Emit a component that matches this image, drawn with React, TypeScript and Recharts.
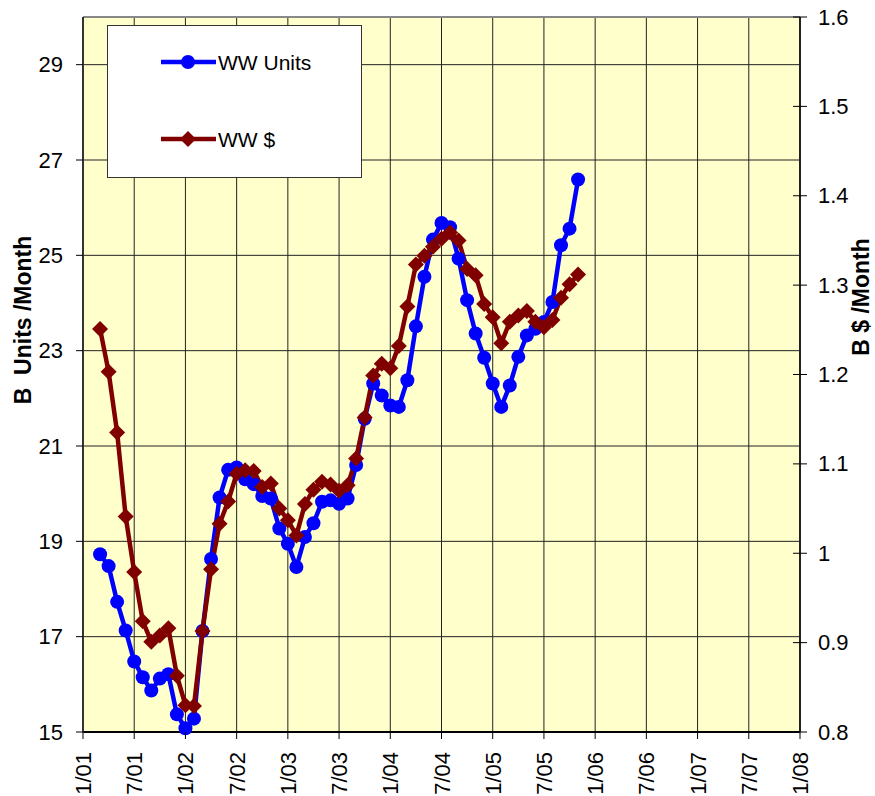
import React from 'react';
import { ComposedChart, Line, XAxis, YAxis, CartesianGrid, ReferenceLine } from 'recharts';

const FONT = '"Liberation Sans", Arial, Helvetica, sans-serif';

const DATES = [
  '2001-03', '2001-04', '2001-05', '2001-06', '2001-07', '2001-08', '2001-09', '2001-10', '2001-11', '2001-12',
  '2002-01', '2002-02', '2002-03', '2002-04', '2002-05', '2002-06', '2002-07', '2002-08', '2002-09', '2002-10', '2002-11', '2002-12',
  '2003-01', '2003-02', '2003-03', '2003-04', '2003-05', '2003-06', '2003-07', '2003-08', '2003-09', '2003-10', '2003-11', '2003-12',
  '2004-01', '2004-02', '2004-03', '2004-04', '2004-05', '2004-06', '2004-07', '2004-08', '2004-09', '2004-10', '2004-11', '2004-12',
  '2005-01', '2005-02', '2005-03', '2005-04', '2005-05', '2005-06', '2005-07', '2005-08', '2005-09', '2005-10', '2005-11',
];

const WW_UNITS = [
  18.73, 18.48, 17.73, 17.13, 16.48, 16.15, 15.87, 16.12, 16.21, 15.37,
  15.08, 15.28, 17.12, 18.63, 19.92, 20.5, 20.55, 20.3, 20.2, 19.95, 19.9, 19.27,
  18.95, 18.46, 19.09, 19.38, 19.83, 19.86, 19.79, 19.9, 20.6, 21.57, 22.31, 22.06,
  21.85, 21.82, 22.38, 23.51, 24.55, 25.33, 25.68, 25.59, 24.93, 24.06, 23.36, 22.85,
  22.31, 21.82, 22.27, 22.87, 23.32, 23.46, 23.6, 24.02, 25.21, 25.56, 26.59,
];

const WW_DOLLARS = [
  1.251, 1.203, 1.135, 1.041, 0.979, 0.924, 0.901, 0.908, 0.916, 0.863,
  0.83, 0.829, 0.913, 0.982, 1.033, 1.058, 1.089, 1.093, 1.092, 1.074, 1.078, 1.05,
  1.037, 1.02, 1.055, 1.071, 1.08, 1.077, 1.07, 1.076, 1.106, 1.152, 1.199, 1.212,
  1.207, 1.232, 1.276, 1.323, 1.333, 1.343, 1.352, 1.359, 1.35, 1.318, 1.311, 1.279,
  1.264, 1.235, 1.259, 1.266, 1.271, 1.259, 1.253, 1.261, 1.286, 1.301, 1.312,
];

const X_TICK_LABELS = ['1/01', '7/01', '1/02', '7/02', '1/03', '7/03', '1/04', '7/04', '1/05', '7/05', '1/06', '7/06', '1/07', '7/07', '1/08'];
const LEFT_TICKS = [15, 17, 19, 21, 23, 25, 27, 29];
const RIGHT_TICKS = [0.8, 0.9, 1, 1.1, 1.2, 1.3, 1.4, 1.5, 1.6];

const SERIES = [
  { key: 'units', name: 'WW Units', color: '#0000FF', marker: 'circle' },
  { key: 'dollars', name: 'WW $', color: '#800000', marker: 'diamond' },
];

const monthIndex = (year: number, month: number) => (year - 2001) * 12 + (month - 1);

const data = DATES.map((d, i) => {
  const [y, m] = d.split('-').map(Number);
  return { m: monthIndex(y, m), units: WW_UNITS[i], dollars: WW_DOLLARS[i] };
});

const xTicks = X_TICK_LABELS.map((l) => {
  const [mo, yy] = l.split('/').map(Number);
  return monthIndex(2000 + yy, mo);
});
const xLabelOf = (v: number) => X_TICK_LABELS[xTicks.indexOf(v)] ?? '';

const TICK_FS = 22;
const LINE_W = 4.5;
const CIRCLE_R = 7;
const DIAMOND_S = 8;

const LeftTick = (props: any) => {
  const { x, y, payload } = props;
  return (
    <g>
      <line x1={x - 7} x2={x} y1={y} y2={y} stroke="#000" strokeWidth={1} />
      <text x={x - 20} y={y} textAnchor="end" dominantBaseline="central" fontSize={TICK_FS} fontFamily={FONT} fill="#000">
        {payload.value}
      </text>
    </g>
  );
};

const RightTick = (props: any) => {
  const { x, y, payload } = props;
  return (
    <g>
      <line x1={x - 7} x2={x + 7} y1={y} y2={y} stroke="#000" strokeWidth={1} />
      <text x={x + 18} y={y} textAnchor="start" dominantBaseline="central" fontSize={TICK_FS} fontFamily={FONT} fill="#000">
        {String(payload.value)}
      </text>
    </g>
  );
};

const BottomTick = (props: any) => {
  const { x, y, payload } = props;
  const tx = x + 8;
  const ty = y + 20;
  return (
    <g>
      <line x1={x} x2={x} y1={y} y2={y + 7} stroke="#000" strokeWidth={1} />
      <text x={tx} y={ty} transform={`rotate(-90 ${tx} ${ty})`} textAnchor="end" fontSize={TICK_FS} fontFamily={FONT} fill="#000">
        {xLabelOf(payload.value)}
      </text>
    </g>
  );
};

const CircleDot = (props: any) => {
  const { cx, cy, index } = props;
  if (cx == null || cy == null) return <g key={`c${index}`} />;
  return <circle key={`c${index}`} cx={cx} cy={cy} r={CIRCLE_R} fill="#0000FF" stroke="none" />;
};

const DiamondDot = (props: any) => {
  const { cx, cy, index } = props;
  if (cx == null || cy == null) return <g key={`d${index}`} />;
  const s = DIAMOND_S;
  return (
    <path
      key={`d${index}`}
      d={`M${cx},${cy - s}L${cx + s},${cy}L${cx},${cy + s}L${cx - s},${cy}Z`}
      fill="#800000"
      stroke="none"
    />
  );
};

const LeftTitle = () => (
  <text
    x={31}
    y={320}
    transform="rotate(-90 31 320)"
    textAnchor="middle"
    fontSize={23}
    fontWeight="bold"
    fontFamily={FONT}
    fill="#000"
    style={{ whiteSpace: 'pre' }}
  >
    {'B  Units /Month'}
  </text>
);

const RightTitle = () => (
  <text
    x={869}
    y={297}
    transform="rotate(-90 869 297)"
    textAnchor="middle"
    fontSize={23}
    fontWeight="bold"
    fontFamily={FONT}
    fill="#000"
  >
    {'B $ /Month'}
  </text>
);

const LegendBox = () => (
  <div
    style={{
      position: 'absolute',
      left: 107,
      top: 25,
      width: 255,
      height: 153,
      boxSizing: 'border-box',
      border: '1px solid #333',
      background: '#fff',
    }}
  >
    <svg width={253} height={151} style={{ display: 'block' }}>
      {SERIES.map((s, i) => {
        const y = i === 0 ? 36 : 113;
        return (
          <g key={s.key}>
            <line x1={53} x2={108} y1={y} y2={y} stroke={s.color} strokeWidth={LINE_W} />
            {s.marker === 'circle' ? (
              <circle cx={80} cy={y} r={CIRCLE_R} fill={s.color} />
            ) : (
              <path d={`M80,${y - DIAMOND_S}L${80 + DIAMOND_S},${y}L80,${y + DIAMOND_S}L${80 - DIAMOND_S},${y}Z`} fill={s.color} />
            )}
            <text x={110} y={y} dominantBaseline="central" fontSize={21} fontFamily={FONT} fill="#000">
              {s.name}
            </text>
          </g>
        );
      })}
    </svg>
  </div>
);

export default function App() {
  return (
    <div style={{ position: 'absolute', left: 0, top: 0, width: 875, height: 796, background: '#fff' }}>
      <ComposedChart width={875} height={796} data={data} margin={{ top: 17, right: 0, bottom: 0, left: 0 }}>
        <CartesianGrid yAxisId="left" stroke="#222" strokeWidth={1} fill="#FFFFCC" fillOpacity={1} />
        <XAxis
          type="number"
          dataKey="m"
          domain={[0, 84]}
          ticks={xTicks}
          interval={0}
          height={64}
          tickSize={0}
          tickMargin={0}
          tickLine={false}
          axisLine={{ stroke: '#000', strokeWidth: 2 }}
          tick={<BottomTick />}
        />
        <YAxis
          yAxisId="left"
          type="number"
          domain={[15, 30]}
          ticks={LEFT_TICKS}
          interval={0}
          width={83}
          tickSize={0}
          tickMargin={0}
          tickLine={false}
          axisLine={{ stroke: '#333', strokeWidth: 2 }}
          tick={<LeftTick />}
          label={() => <LeftTitle />}
        />
        <YAxis
          yAxisId="right"
          orientation="right"
          type="number"
          domain={[0.8, 1.6]}
          ticks={RIGHT_TICKS}
          interval={0}
          width={75}
          tickSize={0}
          tickMargin={0}
          tickLine={false}
          axisLine={{ stroke: '#222', strokeWidth: 2 }}
          tick={<RightTick />}
          label={() => <RightTitle />}
        />
        <ReferenceLine yAxisId="left" y={30} stroke="#888" strokeWidth={2} />
        <Line
          yAxisId="left"
          type="linear"
          dataKey="units"
          name="WW Units"
          stroke="#0000FF"
          strokeWidth={LINE_W}
          dot={CircleDot}
          activeDot={false}
          isAnimationActive={false}
        />
        <Line
          yAxisId="right"
          type="linear"
          dataKey="dollars"
          name="WW $"
          stroke="#800000"
          strokeWidth={LINE_W}
          dot={DiamondDot}
          activeDot={false}
          isAnimationActive={false}
        />
      </ComposedChart>
      <LegendBox />
    </div>
  );
}
